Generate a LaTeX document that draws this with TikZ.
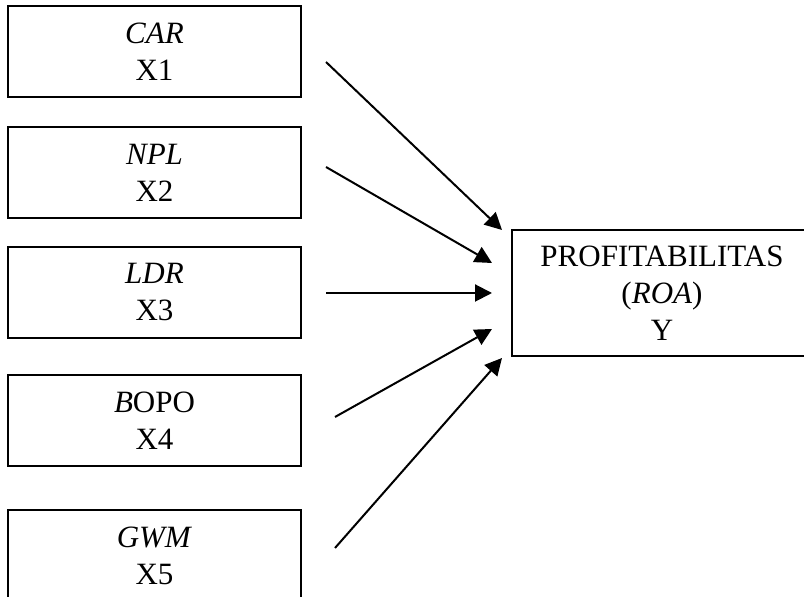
\documentclass[tikz,border=0pt]{standalone}
\usepackage{fontspec}
\setmainfont{Liberation Serif}
\usepackage{tikz}
\usetikzlibrary{arrows.meta, positioning, calc}

\tikzset{
  varbox/.style={draw, line width=1pt, minimum width=146.5pt, minimum height=45.5pt,
    align=center, font=\fontsize{15.5}{18.5}\selectfont},
  ybox/.style={varbox, minimum width=150pt, minimum height=63pt},
  arr/.style={line width=1pt, -{Triangle[length=8.5pt,width=8.5pt]}}
}

\begin{document}
\begin{tikzpicture}[x=0.5pt,y=-0.5pt]
  % Frame (boxes at the border are cut off)
  \clip (0,0) rectangle (804,597);

  % Independent variables
  \node[varbox] (car)  at (154.5,51.5)  {\textit{CAR}\\X1};
  \node[varbox] (npl)  at (154.5,172.5) {\textit{NPL}\\X2};
  \node[varbox] (ldr)  at (154.5,292.5) {\textit{LDR}\\X3};
  \node[varbox] (bopo) at (154.5,420.5) {\textit{B}OPO\\X4};
  \node[varbox] (gwm)  at (154.5,555.5) {\textit{GWM}\\X5};

  % Dependent variable
  \node[ybox] (roa) at (662,293) {PROFITABILITAS\\(\textit{ROA})\\Y};

  % Arrows
  \draw[arr] ($(car.east)+(24,10.5)$)  -- ($(roa.north west)+(-9,1)$);
  \draw[arr] ($(npl.east)+(24,-5.5)$)  -- ($(roa.west)+(-19,-30)$);
  \draw[arr] ($(ldr.east)+(24,0.5)$)   -- ($(roa.west)+(-19,0)$);
  \draw[arr] ($(bopo.east)+(33,-3.5)$) -- ($(roa.west)+(-19,36)$);
  \draw[arr] ($(gwm.east)+(33,-7.5)$)  -- ($(roa.south west)+(-9,1)$);
\end{tikzpicture}
\end{document}
